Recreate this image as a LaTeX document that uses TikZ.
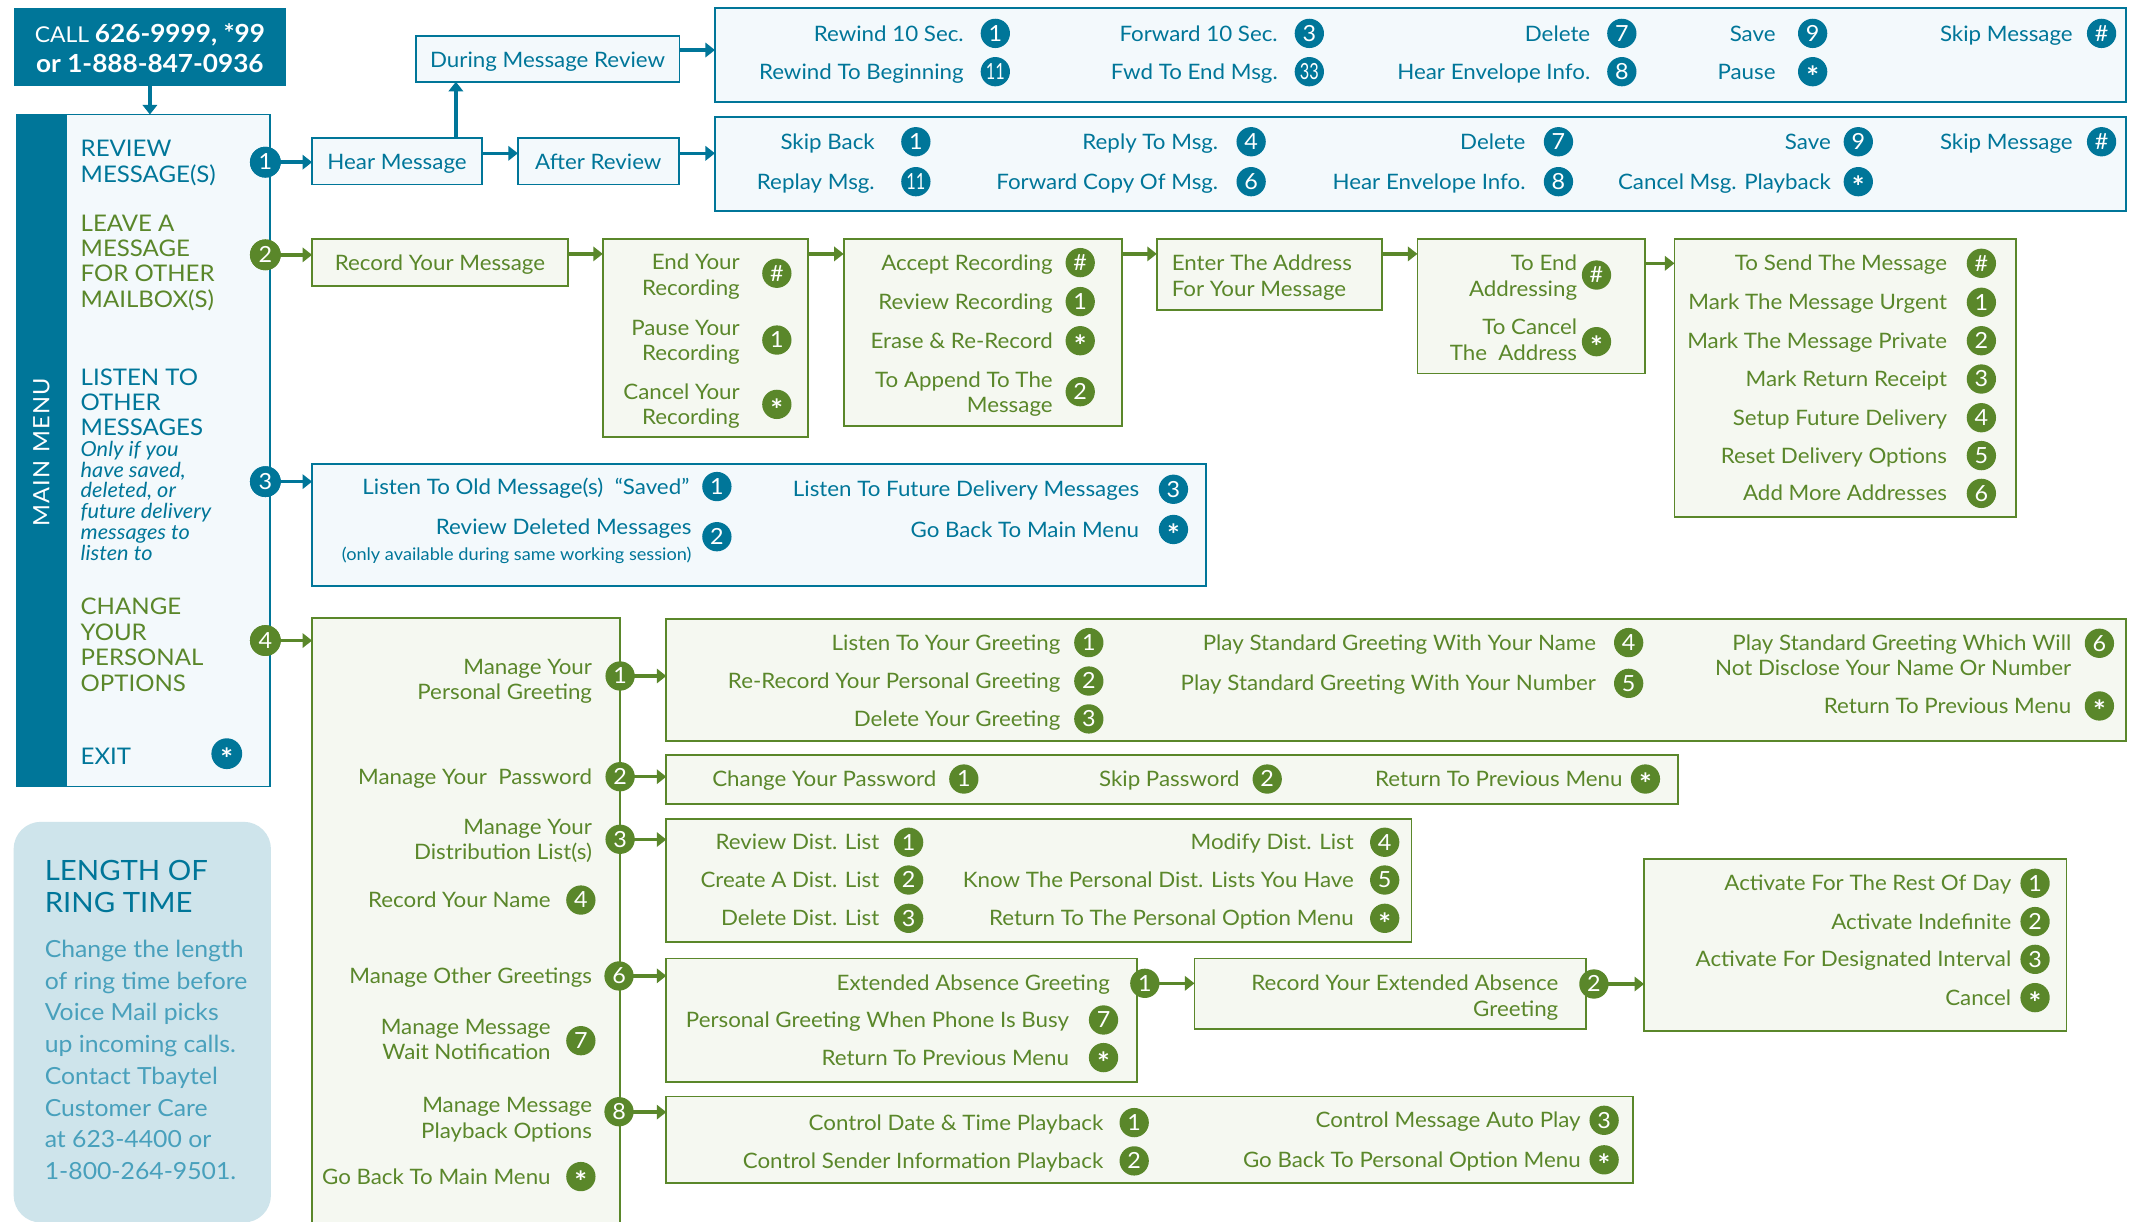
\documentclass[tikz,border=0pt]{standalone}
\usepackage{fontspec}
\setmainfont{Lato}[FakeStretch=1.05]
\usepackage{graphicx}
\usetikzlibrary{arrows.meta,calc}
\definecolor{tb}{RGB}{0,118,153}
\definecolor{tg}{RGB}{90,135,42}
\definecolor{tbfill}{RGB}{243,249,252}
\definecolor{tgfill}{RGB}{245,248,241}
\definecolor{ringfill}{RGB}{206,228,235}
\definecolor{ringtxt}{RGB}{72,160,188}
\newcommand\fmain{\fontsize{15.6}{18.7}\selectfont}
\newcommand\fmenu{\fontsize{16.8}{18.7}\selectfont}
\newcommand\fital{\fontsize{15.2}{15.2}\selectfont\itshape}
\newcommand\fsmall{\fontsize{12.7}{14}\selectfont}
\newcommand\fbadge{\fontsize{16.3}{16}\selectfont}
\newcommand\astk{\raisebox{-6pt}{\fontsize{21}{21}\selectfont\bfseries *}}
\newcommand\two[1]{\scalebox{0.7}[1]{#1}}
\newcommand\mkbox[6][]{%
  \pgfmathsetmacro\bw{#5-#3}\pgfmathsetmacro\bh{#6-#4}%
  \node[#1,anchor=north west,minimum width=\bw pt,minimum height=\bh pt,inner sep=0pt,outer sep=0pt] (#2) at (#3,#4) {};}
\newcommand\opt[7][23]{%
  \node[badge#2] (#3) at (#4,#5) {#6};
  \node[lbl#2,anchor=base east] (#3-t) at ({#4-#1},{#5+5.6}) {#7};}
\newcommand\optii[9][23]{%
  \node[badge#2] (#3) at (#4,#5) {#6};
  \node[lbl#2,anchor=base east] (#3-t) at ({#4-#1},{#9+5.6}) {\begin{tabular}[t]{@{}r@{}}#7\\#8\end{tabular}};}
\tikzset{
  bbox/.style={draw=tb,fill=tbfill,line width=1.3pt},
  gbox/.style={draw=tg,fill=tgfill,line width=1.3pt},
  badgeB/.style={circle,fill=tb,text=white,minimum size=21.5pt,inner sep=0pt,font=\fbadge,text height=11.4pt,text depth=0pt},
  badgeG/.style={circle,fill=tg,text=white,minimum size=21.5pt,inner sep=0pt,font=\fbadge,text height=11.4pt,text depth=0pt},
  lblB/.style={text=tb,font=\fmain,inner sep=0pt},
  lblG/.style={text=tg,font=\fmain,inner sep=0pt},
  arrB/.style={draw=tb,line width=2.6pt,-{Triangle[length=7pt,width=10.5pt]}},
  arrG/.style={draw=tg,line width=2.6pt,-{Triangle[length=7pt,width=10.5pt]}},
  mtxt/.style={font=\fmenu,inner sep=0pt,anchor=base west},
}
\begin{document}
\begin{tikzpicture}[x=1pt,y=-1pt]
\useasboundingbox (0,0) rectangle (1568,896);
\fill[white] (0,0) rectangle (1568,896);
% ---------- boxes ----------
\mkbox[fill=tb]{call}{10}{6}{210}{63}
\mkbox[bbox,line width=1.1pt]{menu}{12}{84}{198}{577}
\mkbox[fill=tb]{band}{12}{84}{49.5}{577}
\mkbox[fill=ringfill,rounded corners=20pt]{ring}{10}{603}{198.8}{897}
\mkbox[bbox]{hear}{229}{101.5}{353.7}{135.3}
\mkbox[bbox]{during}{305}{26.2}{498.6}{60}
\mkbox[bbox]{after}{380}{101.5}{498}{135.3}
\mkbox[bbox]{dopt}{524.6}{6.1}{1560}{74.6}
\mkbox[bbox]{aopt}{524.6}{86}{1560}{154.6}
\mkbox[gbox]{record}{229}{175.4}{416.7}{209.6}
\mkbox[gbox]{endb}{442.3}{175.4}{593}{320.9}
\mkbox[gbox]{accept}{619}{175.4}{823}{312.3}
\mkbox[gbox]{enter}{848.8}{175.4}{1013.9}{227.4}
\mkbox[gbox]{toend}{1040}{175.4}{1207}{274}
\mkbox[gbox]{tosend}{1228.6}{175.4}{1479}{379.6}
\mkbox[bbox]{listen}{229}{340.7}{885}{429.7}
\mkbox[gbox]{pers}{229}{453.2}{454.9}{910}
\mkbox[gbox]{greet}{488.9}{454.2}{1559.8}{543.7}
\mkbox[gbox]{pass}{488.9}{554}{1231.1}{589.9}
\mkbox[gbox]{dist}{488.9}{600.9}{1035.6}{691.4}
\mkbox[gbox]{other}{488.9}{703.2}{834.4}{793.7}
\mkbox[gbox]{recext}{876.4}{703.2}{1163.8}{755.2}
\mkbox[gbox]{activ}{1206.3}{630.3}{1516.3}{756.5}
\mkbox[gbox]{play}{488.9}{804.6}{1198}{868.2}
% ---------- coordinates for connector heights ----------
\coordinate (ya) at (0,36.7);
\coordinate (yb) at (0,112.5);
\coordinate (yc) at (0,186.3);
\coordinate (yd) at (0,193.2);
\coordinate (hu) at (334.5,0);
% ---------- menu badges ----------
\node[badgeB,minimum size=22.6pt] (m1) at (194.7,119) {1};
\node[badgeG,minimum size=22.6pt] (m2) at (194.7,187) {2};
\node[badgeB,minimum size=22.6pt] (m3) at (194.7,353.4) {3};
\node[badgeG,minimum size=22.6pt] (m4) at (194.7,470) {4};
\node[badgeB,minimum size=22.6pt] (mx) at (166.4,553) {\astk};
% ---------- text in simple boxes ----------
\node[text=white,font=\fontsize{16}{20}\selectfont,inner sep=0pt,anchor=base] (callt1) at (110,31) {CALL \textbf{\fontsize{18.3}{20}\selectfont 626-9999, *99}};
\node[text=white,font=\bfseries\fontsize{18.3}{20}\selectfont,inner sep=0pt,anchor=base] (callt2) at (110,53) {or 1-888-847-0936};
\node[lblB,anchor=base] (hear-t) at ($(hear.center)+(0,6.3)$) {Hear Message};
\node[lblB,anchor=base] (during-t) at ($(during.center)+(0,6.3)$) {During Message Review};
\node[lblB,anchor=base] (after-t) at ($(after.center)+(0,6.3)$) {After Review};
\node[lblG,anchor=base] (record-t) at ($(record.center)+(0,6.3)$) {Record Your Message};
\node[lblG,anchor=base west] (enter-t) at (859.6,198.8) {\begin{tabular}[t]{@{}l@{}}Enter The Address\\For Your Message\end{tabular}};
% ---------- main menu text ----------
\node[text=white,font=\fontsize{16.5}{18}\selectfont\addfontfeature{LetterSpace=6},rotate=90,inner sep=0pt] (mm) at (30.3,332) {MAIN MENU};
\node[mtxt,text=tb] (mt1) at (59,115) {\vtop{\hbox{REVIEW}\hbox{MESSAGE(S)}}};
\node[mtxt,text=tg] (mt2) at (59,169.5) {\vtop{\hbox{LEAVE A}\hbox{MESSAGE}\hbox{FOR OTHER}\hbox{MAILBOX(S)}}};
\node[mtxt,text=tb] (mt3) at (59,282.5) {\vtop{\hbox{LISTEN TO}\hbox{OTHER}\hbox{MESSAGES}}};
\node[mtxt,text=tb,font=\fital] (mt3b) at (59,335) {\vtop{\hbox{Only if you}\hbox{have saved,}\hbox{deleted, or}\hbox{future delivery}\hbox{messages to}\hbox{listen to}}};
\node[mtxt,text=tg] (mt4) at (59,451) {\vtop{\hbox{CHANGE}\hbox{YOUR}\hbox{PERSONAL}\hbox{OPTIONS}}};
\node[mtxt,text=tb] (mt5) at (59,560.8) {EXIT};
% ---------- ring time ----------
\node[text=tb,font=\fontsize{20.5}{24}\selectfont,inner sep=0pt,anchor=base west] (ringt) at (32.7,645.7) {\vtop{\hbox{LENGTH OF}\hbox{RING TIME}}};
\node[text=ringtxt,font=\fontsize{17.3}{23.3}\selectfont,inner sep=0pt,anchor=base west] (ringb) at (32.7,702.4) {\vtop{\hbox{Change the length}\hbox{of ring time before}\hbox{Voice Mail picks}\hbox{up incoming calls.}\hbox{Contact Tbaytel}\hbox{Customer Care}\hbox{at 623-4400 or}\hbox{1-800-264-9501.}}};
% ---------- connectors ----------
\draw[arrB] (call.south) -- (call.south |- menu.north);
\draw[arrB] (m1.center) -- (m1.center -| hear.west);
\draw[arrB] (hear.north -| hu) -- (during.south -| hu);
\draw[arrB] (during.east |- ya) -- (dopt.west |- ya);
\draw[arrB] (hear.east |- yb) -- (after.west |- yb);
\draw[arrB] (after.east |- yb) -- (aopt.west |- yb);
\draw[arrB] (m3.center) -- (m3.center -| listen.west);
\draw[arrG] (m2.center) -- (m2.center -| record.west);
\draw[arrG] (record.east |- yc) -- (endb.west |- yc);
\draw[arrG] (endb.east |- yc) -- (accept.west |- yc);
\draw[arrG] (accept.east |- yc) -- (enter.west |- yc);
\draw[arrG] (enter.east |- yc) -- (toend.west |- yc);
\draw[arrG] (toend.east |- yd) -- (tosend.west |- yd);
\draw[arrG] (m4.center) -- (m4.center -| pers.west);
\coordinate (cp1) at (455,496);
\coordinate (cp2) at (455,569.9);
\coordinate (cp3) at (455,616);
\coordinate (cp6) at (454.2,716);
\coordinate (cp8) at (454.2,816);
\coordinate (co1) at (840,721.5);
\coordinate (cr2) at (1169.5,722);
\draw[arrG] (cp1) -- (cp1 -| greet.west);
\draw[arrG] (cp2) -- (cp2 -| pass.west);
\draw[arrG] (cp3) -- (cp3 -| dist.west);
\draw[arrG] (cp6) -- (cp6 -| other.west);
\draw[arrG] (cp8) -- (cp8 -| play.west);
\draw[arrG] (co1) -- (co1 -| recext.west);
\draw[arrG] (cr2) -- (cr2 -| activ.west);
\node[badgeB,minimum size=22.6pt] at (m1) {1};
\node[badgeG,minimum size=22.6pt] at (m2) {2};
\node[badgeB,minimum size=22.6pt] at (m3) {3};
\node[badgeG,minimum size=22.6pt] at (m4) {4};
% ---------- during review options ----------
\opt{B}{d1}{730.3}{24.5}{1}{Rewind 10 Sec.}
\opt{B}{d3}{960.7}{24.5}{3}{Forward 10 Sec.}
\opt{B}{d7}{1190}{24.5}{7}{Delete}
\opt[27]{B}{d9}{1330}{24.5}{9}{Save}
\opt[21]{B}{dh}{1542}{24.5}{\#}{Skip Message}
\opt{B}{d11}{730.3}{52.6}{\two{11}}{Rewind To Beginning}
\opt{B}{d33}{960.7}{52.6}{\two{33}}{Fwd To End Msg.}
\opt{B}{d8}{1190}{52.6}{8}{Hear Envelope Info.}
\opt[27]{B}{ds}{1330}{52.6}{\astk}{Pause}
% ---------- after review options ----------
\opt[30]{B}{a1}{672}{104}{1}{Skip Back}
\opt[24]{B}{a4}{918}{104}{4}{Reply To Msg.}
\opt[24]{B}{a7}{1143.5}{104}{7}{Delete}
\opt[20]{B}{a9}{1363.5}{104}{9}{Save}
\opt[21]{B}{ah}{1542}{104}{\#}{Skip Message}
\opt[30]{B}{a11}{672}{133.3}{\two{11}}{Replay Msg.}
\opt[24]{B}{a6}{918}{133.3}{6}{Forward Copy Of Msg.}
\opt[24]{B}{a8}{1143.5}{133.3}{8}{Hear Envelope Info.}
\opt[20]{B}{as}{1363.5}{133.3}{\astk}{Cancel Msg. Playback}
% ---------- record chain ----------
\optii[27]{G}{e1}{570}{200.5}{\#}{End Your}{Recording}{192.5}
\optii[27]{G}{e2}{570}{249.5}{1}{Pause Your}{Recording}{240.5}
\optii[27]{G}{e3}{570}{296.7}{\astk}{Cancel Your}{Recording}{287.5}
\opt[20]{G}{c1}{792.6}{192.7}{\#}{Accept Recording}
\opt[20]{G}{c2}{792.6}{221.3}{1}{Review Recording}
\opt[20]{G}{c3}{792.6}{250}{\astk}{Erase \& Re-Record}
\optii[20]{G}{c4}{792.6}{287.4}{2}{To Append To The}{Message}{278.5}
\optii[14]{G}{t1}{1171.4}{201.8}{\#}{To End}{Addressing}{193.2}
\optii[14]{G}{t2}{1171.4}{250.7}{\astk}{To Cancel}{The~~Address}{240.2}
\opt[25]{G}{n1}{1453.8}{193.2}{\#}{To Send The Message}
\opt[25]{G}{n2}{1453.8}{221.8}{1}{Mark The Message Urgent}
\opt[25]{G}{n3}{1453.8}{250}{2}{Mark The Message Private}
\opt[25]{G}{n4}{1453.8}{278.1}{3}{Mark Return Receipt}
\opt[25]{G}{n5}{1453.8}{306.5}{4}{Setup Future Delivery}
\opt[25]{G}{n6}{1453.8}{334.3}{5}{Reset Delivery Options}
\opt[25]{G}{n7}{1453.8}{362}{6}{Add More Addresses}
% ---------- listen box ----------
\opt[20]{B}{l1}{526}{357}{1}{Listen To Old Message(s)~~“Saved”}
\node[badgeB] (l2) at (526,393.8) {2};
\node[lblB,anchor=base east] (l2-t) at (507.6,392.5) {Review Deleted Messages};
\node[text=tb,font=\fsmall,inner sep=0pt,anchor=base east] (l2-s) at (507.6,410.9) {(only available during same working session)};
\opt[25]{B}{l3}{861}{359}{3}{Listen To Future Delivery Messages}
\opt[25]{B}{ls}{861}{388.5}{\astk}{Go Back To Main Menu}
% ---------- personal options ----------
\optii[20.4]{G}{p1}{455}{496}{1}{Manage Your}{Personal Greeting}{489}
\opt[20.4]{G}{p2}{455}{569.9}{2}{Manage Your~~Password}
\optii[20.4]{G}{p3}{455}{615.8}{3}{Manage Your}{Distribution List(s)}{606.5}
\opt[22]{G}{p4}{426.2}{660.4}{4}{Record Your Name}
\opt[19.6]{G}{p6}{454.2}{716.1}{6}{Manage Other Greetings}
\optii[22]{G}{p7}{426.2}{763.6}{7}{Manage Message}{Wait Notification}{753.3}
\optii[19.6]{G}{p8}{454.2}{815.7}{8}{Manage Message}{Playback Options}{810.8}
\opt[22]{G}{ps}{426.2}{863.3}{\astk}{Go Back To Main Menu}
% ---------- greeting ----------
\opt[20.6]{G}{g1}{798.9}{471.5}{1}{Listen To Your Greeting}
\opt[20.6]{G}{g2}{798.9}{499.7}{2}{Re-Record Your Personal Greeting}
\opt[20.6]{G}{g3}{798.9}{527.5}{3}{Delete Your Greeting}
\opt[23.8]{G}{g4}{1195}{471.5}{4}{Play Standard Greeting With Your Name}
\opt[23.8]{G}{g5}{1195}{501.4}{5}{Play Standard Greeting With Your Number}
\optii[20.5]{G}{g6}{1540.4}{472}{6}{Play Standard Greeting Which Will}{Not Disclose Your Name Or Number}{471.5}
\opt[20.5]{G}{gs}{1540.4}{518}{\astk}{Return To Previous Menu}
% ---------- password ----------
\opt[20]{G}{w1}{707.2}{571.6}{1}{Change Your Password}
\opt[20]{G}{w2}{929.8}{571.6}{2}{Skip Password}
\opt[16.6]{G}{ws}{1207.3}{571.6}{\astk}{Return To Previous Menu}
% ---------- distribution ----------
\opt[21.3]{G}{s1}{666.7}{618}{1}{Review Dist. List}
\opt[21.3]{G}{s2}{666.7}{645.7}{2}{Create A Dist. List}
\opt[21.3]{G}{s3}{666.7}{673.8}{3}{Delete Dist. List}
\opt[22.5]{G}{s4}{1016}{618}{4}{Modify Dist. List}
\opt[22.5]{G}{s5}{1016}{645.7}{5}{Know The Personal Dist. Lists You Have}
\opt[22.5]{G}{ss}{1016}{673.8}{\astk}{Return To The Personal Option Menu}
% ---------- other greetings ----------
\opt[25.4]{G}{o1}{840}{721.5}{1}{Extended Absence Greeting}
\opt[25.1]{G}{o7}{809.7}{748.4}{7}{Personal Greeting When Phone Is Busy}
\opt[25.1]{G}{os}{809.7}{776}{\astk}{Return To Previous Menu}
\optii[25.9]{G}{r2}{1169.5}{722}{2}{Record Your Extended Absence}{Greeting}{721.5}
% ---------- activate ----------
\opt[17.3]{G}{v1}{1493.2}{648.1}{1}{Activate For The Rest Of Day}
\opt[17.3]{G}{v2}{1493.2}{676.2}{2}{Activate Indefinite}
\opt[17.3]{G}{v3}{1493.2}{703.9}{3}{Activate For Designated Interval}
\opt[17.3]{G}{vs}{1493.2}{732}{\astk}{Cancel}
% ---------- playback ----------
\opt[22.5]{G}{y1}{832.2}{823.7}{1}{Control Date \& Time Playback}
\opt[22.5]{G}{y2}{832.2}{851.8}{2}{Control Sender Information Playback}
\opt[17]{G}{y3}{1177}{822}{3}{Control Message Auto Play}
\opt[17]{G}{ys}{1177}{851}{\astk}{Go Back To Personal Option Menu}
\end{tikzpicture}
\end{document}
